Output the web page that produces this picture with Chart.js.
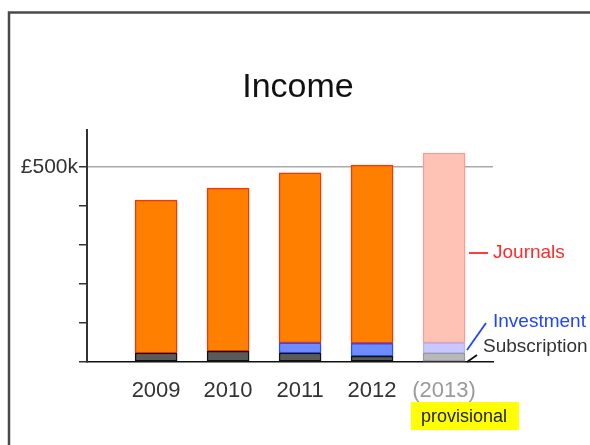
<!DOCTYPE html>
<html lang="en">
<head>
  <meta charset="UTF-8">
  <title>Income</title>
  <script src="https://cdn.jsdelivr.net/npm/chart.js"></script>
  <style>
    body {
      margin: 0;
      background: #fff;
      font-family: 'Liberation Sans', Arial, sans-serif;
    }
    #wrap {
      width: 590px;
      height: 445px;
    }
  </style>
</head>
<body>
  <div id="wrap"><canvas id="incomeChart" width="590" height="445"></canvas></div>

  <script>
    // values, in £
    const years = [2009, 2010, 2011, 2012, 2013];
    const subscription = [23000, 28000, 23000, 15000, 23000];
    const investment = [null, null, 26000, 33000, 26000];
    const journals = [392000, 418000, 436000, 457000, 487000];
    const yTicks = [0, 100000, 200000, 300000, 400000, 500000];

    const FONT = "'Liberation Sans', Arial, sans-serif";
    const provisional = years.map(y => y === 2013);

    function pts(arr) {
      return years.map((y, i) => ({ x: y, y: arr[i] }));
    }
    function pick(normal, faded) {
      return provisional.map(p => p ? faded : normal);
    }

    const annotations = {
      id: 'annotations',
      beforeDraw(chart) {
        const c = chart.ctx;
        c.save();
        c.strokeStyle = '#4a4a4a';
        c.lineWidth = 2.5;
        c.strokeRect(9, 12.5, 700, 600);
        c.restore();
      },
      afterDraw(chart) {
        const c = chart.ctx;
        c.save();
        c.textBaseline = 'middle';

        c.fillStyle = '#111';
        c.font = '34px ' + FONT;
        c.textAlign = 'center';
        c.fillText('Income', 298, 88);

        // provisional tag
        c.fillStyle = '#ffff00';
        c.fillRect(411, 402, 108, 28);
        c.fillStyle = '#222';
        c.font = '18px ' + FONT;
        c.fillText('provisional', 464, 417);

        c.textAlign = 'left';
        c.font = '19px ' + FONT;
        c.lineWidth = 1.8;

        c.strokeStyle = '#ff2a2a';
        c.beginPath(); c.moveTo(469, 253); c.lineTo(488, 253); c.stroke();
        c.fillStyle = '#ff2a2a';
        c.fillText('Journals', 493, 253);

        c.strokeStyle = '#2244ff';
        c.beginPath(); c.moveTo(467, 350); c.lineTo(486, 323); c.stroke();
        c.fillStyle = '#2244ff';
        c.fillText('Investment', 493, 322);

        c.strokeStyle = '#111';
        c.beginPath(); c.moveTo(467, 362); c.lineTo(477, 355); c.stroke();
        c.fillStyle = '#333';
        c.fillText('Subscription', 483, 347);
        c.restore();
      }
    };

    new Chart(document.getElementById('incomeChart'), {
      type: 'bar',
      data: {
        datasets: [
          {
            label: 'Subscription',
            data: pts(subscription),
            backgroundColor: pick('#5a5a5a', '#b8b8b8'),
            borderColor: pick('#111', '#9a9a9a'),
            borderWidth: 1.5,
            borderSkipped: false,
            barThickness: 42
          },
          {
            label: 'Investment',
            data: pts(investment),
            backgroundColor: pick('#6f8cff', '#c8c8ff'),
            borderColor: pick('#2a4cff', '#b0b4ff'),
            borderWidth: 1.5,
            borderSkipped: false,
            barThickness: 42
          },
          {
            label: 'Journals',
            data: pts(journals),
            backgroundColor: pick('#ff7f00', '#ffc3b6'),
            borderColor: pick('#ff3300', '#ff9a92'),
            borderWidth: 1.5,
            borderSkipped: false,
            barThickness: 42
          }
        ]
      },
      options: {
        responsive: false,
        animation: false,
        layout: { padding: { top: 130, right: 97, left: 0, bottom: 0 } },
        plugins: {
          legend: { display: false },
          tooltip: { enabled: false }
        },
        scales: {
          x: {
            type: 'linear',
            stacked: true,
            offset: false,
            min: 2008.04,
            max: 2013.68,
            afterBuildTicks: s => { s.ticks = years.map(v => ({ value: v })); },
            afterFit: s => { s.height = 83; },
            grid: { display: false },
            border: { color: '#111', width: 1.5 },
            ticks: {
              padding: 8,
              autoSkip: false,
              maxRotation: 0,
              font: { family: FONT, size: 22 },
              color: ctx => ctx.tick && ctx.tick.value === 2013 ? '#9a9a9a' : '#333',
              callback: v => v === 2013 ? '(2013)' : String(v)
            }
          },
          y: {
            stacked: true,
            min: 0,
            max: 595000,
            afterBuildTicks: s => { s.ticks = yTicks.map(v => ({ value: v })); },
            afterFit: s => { s.width = 87; },
            grid: {
              color: ctx => ctx.tick && ctx.tick.value === 500000 ? '#aaa' : 'rgba(0,0,0,0)',
              tickColor: '#333',
              tickLength: 8,
              lineWidth: 1.5
            },
            border: { color: '#333', width: 2 },
            ticks: {
              padding: 1,
              font: { family: FONT, size: 21 },
              color: '#333',
              callback: v => v === 500000 ? '£500k' : ''
            }
          }
        }
      },
      plugins: [annotations]
    });
  </script>
</body>
</html>
